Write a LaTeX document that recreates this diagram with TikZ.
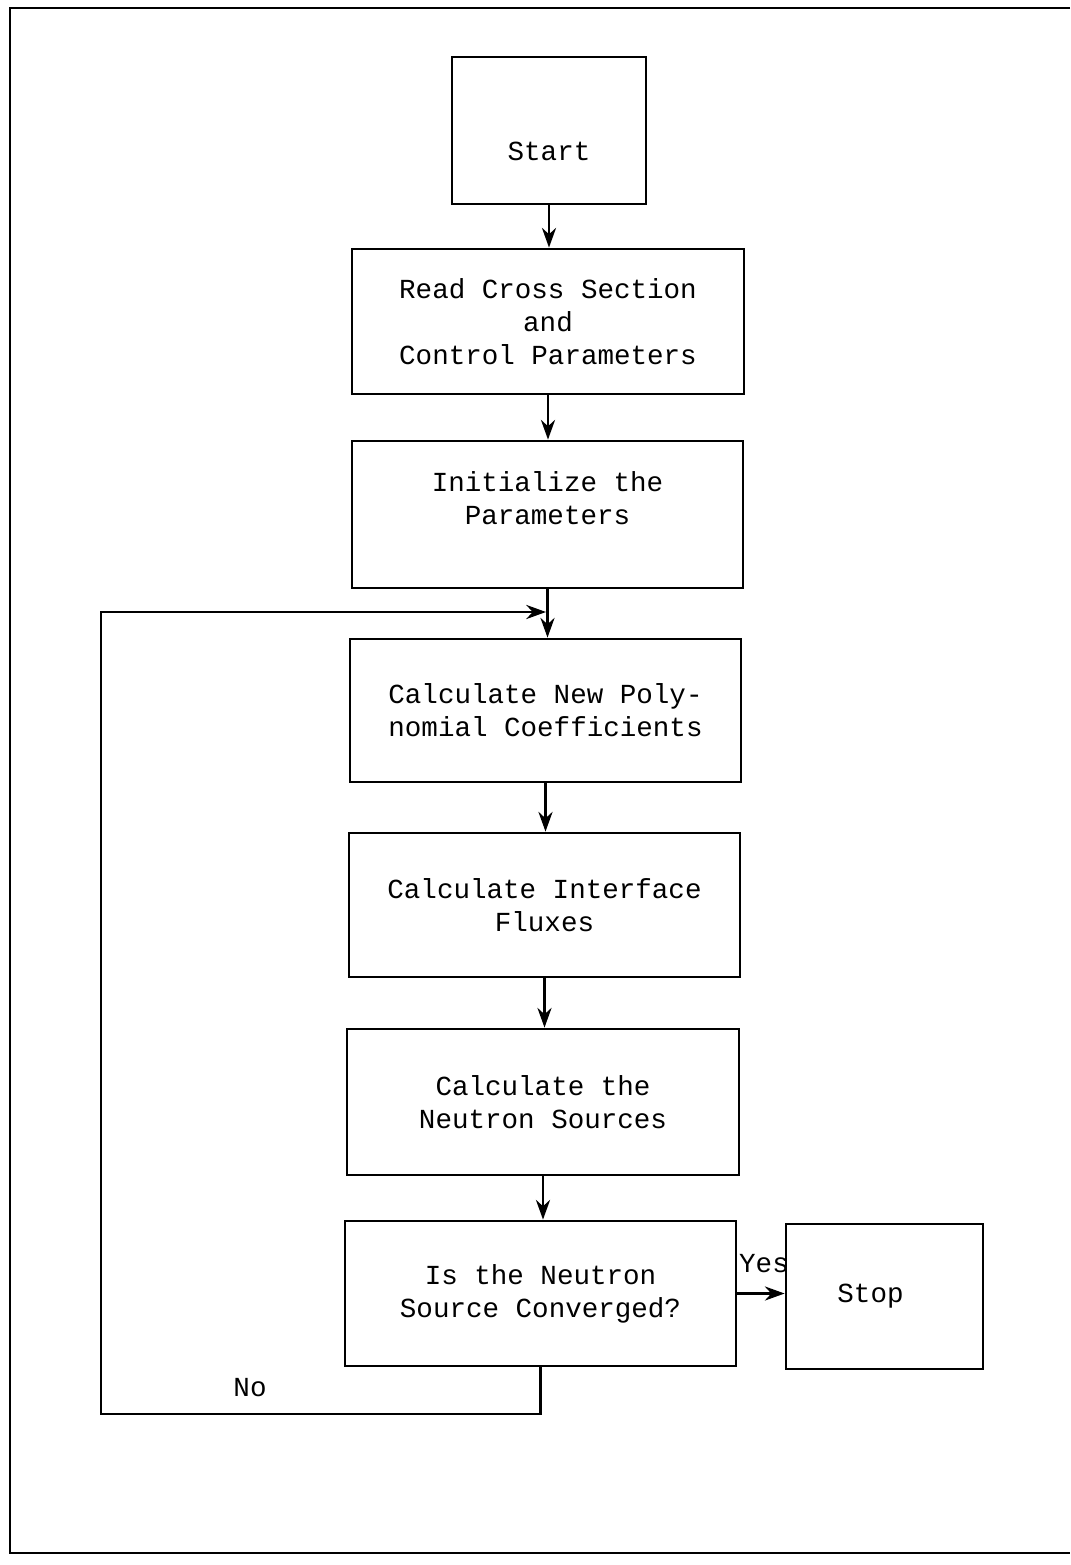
\documentclass[tikz,border=0pt]{standalone}
\usepackage{fontspec}
\setmonofont{Liberation Mono}
\usetikzlibrary{arrows.meta}
\begin{document}
\begin{tikzpicture}[>={Stealth[length=14pt,width=10pt]}, line width=2pt,
    box/.style={draw, rectangle, align=center, inner sep=0pt,
      font=\ttfamily\fontsize{19.6}{23.5}\selectfont},
    tag/.style={font=\ttfamily\fontsize{19.6}{23.5}\selectfont}]
\useasboundingbox (0,0) rectangle (26.75,-39.125);
\draw[line width=1.6pt] (26.75,-0.2) -- (0.25,-0.2) -- (0.25,-38.825) -- (26.75,-38.825);
        \node(start)[box, minimum width=4.85cm, minimum height=3.675cm, text height=43pt, text depth=0pt] at (13.725,-3.2625){Start};
        \node(read)[box, minimum width=9.8cm, minimum height=3.625cm] at (13.7,-8.0375){Read Cross Section\\and\\Control Parameters};
        \node(init)[box, minimum width=9.775cm, minimum height=3.675cm] at (13.6875,-12.8625){Initialize the\\Parameters\\\mbox{}};
        \node(coef)[box, minimum width=9.775cm, minimum height=3.575cm] at (13.6375,-17.7625){Calculate New Poly-\\nomial Coefficients};
        \node(flux)[box, minimum width=9.775cm, minimum height=3.6cm] at (13.6125,-22.625){Calculate Interface\\Fluxes};
        \node(src)[box, minimum width=9.8cm, minimum height=3.65cm] at (13.575,-27.55){Calculate the\\Neutron Sources};
        \node(conv)[box, minimum width=9.775cm, minimum height=3.625cm] at (13.5125,-32.3375){Is the Neutron\\Source Converged?};
        \node(stop)[box, minimum width=4.925cm, minimum height=3.625cm] at (22.1125,-32.4125){Stop\hspace*{0.7cm}};
        \node(yes)[tag] at (19.1,-31.6){Yes};
        \node(no)[tag] at (6.25,-34.7){No};
        \coordinate(join) at (13.65,-15.3);
        \coordinate(corner) at (2.525,-35.35);
\draw[->](start.south)--(start.south |- read.north);
\draw[->](read.south)--(read.south |- init.north);
\draw[->](init.south)--(init.south |- coef.north);
\draw[->](coef.south)--(coef.south |- flux.north);
\draw[->](flux.south)--(flux.south |- src.north);
\draw[->](src.south)--(src.south |- conv.north);
\draw[->](conv.east)--(conv.east -| stop.west);
\draw[->](conv.south) |- (corner) |- (join);
    \end{tikzpicture}
\end{document}
